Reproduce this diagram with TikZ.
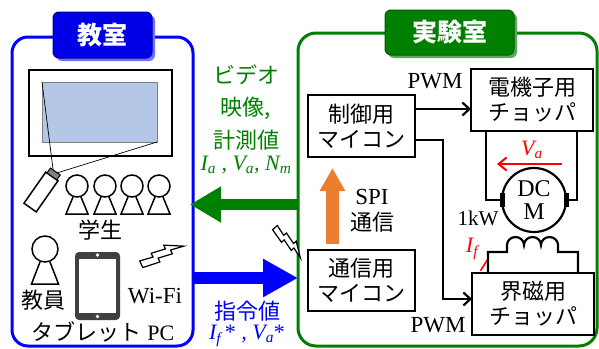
\documentclass[tikz,border=0pt]{standalone}
\usepackage{fontspec}
\setmainfont{Liberation Serif}
\newfontfamily\jpfont{Noto Sans CJK JP}
\usetikzlibrary{arrows.meta}
\definecolor{labgreen}{RGB}{0,128,0}
\definecolor{clsblue}{RGB}{0,0,255}
\definecolor{tabblue}{RGB}{0,0,230}
\definecolor{tabblueshade}{RGB}{110,110,255}
\definecolor{tabgreenshade}{RGB}{90,170,90}
\definecolor{screenblue}{RGB}{180,199,231}
\definecolor{spiorange}{RGB}{237,125,49}
\definecolor{tabletgray}{RGB}{64,64,64}

\tikzset{
  zapbolt/.pic={
    \draw[line width=1.2pt, fill=white, line join=miter]
      (-4pt,22pt) -- (3pt,22pt) -- (1pt,9pt) -- (5pt,9pt) -- (3pt,-5pt) -- (7pt,-5pt)
      -- (-2pt,-22pt) -- (0pt,-9pt) -- (-4pt,-9pt) -- (-2pt,5pt) -- (-6pt,5pt) -- cycle;
  }
}

\begin{document}
\begin{tikzpicture}[x=1pt,y=-1pt,
  every node/.style={inner sep=0pt, outer sep=0pt},
  jtxt/.style={font=\jpfont\fontsize{22}{25}\selectfont},
  ltxt/.style={font=\fontsize{23}{25}\selectfont},
  room/.style={draw, line width=3pt, rounded corners=16pt},
  roomtab/.style={rounded corners=6pt, text=white, font=\jpfont\bfseries\fontsize{25}{25}\selectfont},
  unit/.style={draw, line width=2.4pt, fill=white, align=center, jtxt},
  wire/.style={line width=2.2pt},
  sig/.style={wire, -{Straight Barb[length=7pt,width=13pt]}},
  person/.style={draw, line width=1.5pt, circle, fill=white},
  torso/.style={line width=1.5pt},
]
\useasboundingbox (0,0) rectangle (599,348);

% ---------- the two rooms ----------
\node[room, draw=clsblue, minimum width=181pt, minimum height=309pt] (cls) at (102.5,191.5) {};
\node[room, draw=labgreen, rounded corners=18pt, minimum width=299pt, minimum height=313pt] (lab) at (447.5,189.5) {};

\node[roomtab, fill=tabblueshade, minimum width=99pt, minimum height=46pt] at (105.5,38) {};
\node[roomtab, fill=tabblue, draw=blue!60!black, line width=1pt, minimum width=99pt, minimum height=46pt] (clsTab) at (102.5,35) {教室};
\node[roomtab, fill=tabgreenshade, minimum width=129pt, minimum height=45pt] at (452.5,35.5) {};
\node[roomtab, fill=labgreen, draw=labgreen!70!black, line width=1pt, minimum width=129pt, minimum height=45pt] (labTab) at (449.5,32.5) {実験室};

% ---------- classroom: screen and projector ----------
\node[draw, line width=2pt, minimum width=143pt, minimum height=86pt] (screen) at (100.5,113) {};
\node[draw=gray, line width=0.6pt, fill=screenblue, minimum width=115pt, minimum height=60pt] (img) at (99.5,112) {};
\node[draw, line width=1.5pt, fill=white, rotate=55, minimum width=38pt, minimum height=15pt] (proj) at (41,192) {};
\node[draw, line width=1pt, fill=gray, rotate=55, minimum width=6pt, minimum height=12pt] (lens) at ([shift={(55:22pt)}]proj.center) {};
\draw[line width=0.7pt] (lens) -- (img.north west);
\draw[line width=0.7pt] (lens) -- (img.south east);

% ---------- students and teacher ----------
\foreach \i/\x in {1/77,2/105,3/132,4/159} {
  \node[person, minimum size=22pt] (s\i) at (\x,186) {};
  \draw[torso] ([xshift=-4pt]s\i.south) -- ++(-7,17) -- ++(22,0) -- ++(-7,-17);
}
\node[jtxt] (stuLbl) at (100,230) {学生};

\node[person, minimum size=26pt] (teacher) at (45,249) {};
\draw[torso] ([xshift=-5pt]teacher.south) -- ++(-8.5,22) -- ++(27,0) -- ++(-8.5,-22);
\node[jtxt] (teachLbl) at (43,300) {教員};

% ---------- tablet and Wi-Fi ----------
\node[fill=tabletgray, rounded corners=4pt, minimum width=45pt, minimum height=68pt] (tablet) at (97.5,286) {};
\node[fill=white, minimum width=37pt, minimum height=54pt] (tabscreen) at (97.5,285.5) {};
\fill[white] ([yshift=-3pt]tablet.north) circle (1.8pt);
\fill[white] ([yshift=3.5pt]tablet.south) circle (1.8pt);
\node[ltxt] (wifi) at (155,296) {Wi-Fi};
\node[font=\fontsize{22}{25}\selectfont] (tabLbl) at (103,332) {{\jpfont タブレット} PC};
\pic[rotate=115, scale=1.05] at (162,254) {zapbolt};
\pic[rotate=42, scale=0.9] at (288.5,242) {zapbolt};

% ---------- links between the rooms ----------
\coordinate (yVideo) at (0,204.5);
\coordinate (yCmd) at (0,278);
\draw[labgreen, line width=11pt, -{Triangle[width=34pt,length=31pt]}, shorten >=-3pt]
  (lab.west |- yVideo) -- (cls.east |- yVideo);
\draw[clsblue, line width=12pt, -{Triangle[width=36pt,length=35pt]}]
  (cls.east |- yCmd) -- (lab.west |- yCmd);

\node[text=labgreen, align=center, font=\jpfont\fontsize{22}{32.5}\selectfont] (videoLbl) at (246,107.5) {ビデオ\\映像,\\計測値};
\node[text=labgreen, font=\fontsize{22}{25}\selectfont\itshape] (measLbl) at (246,165)
  {I\textsubscript{a} , V\textsubscript{a}, N\textsubscript{m}};
\node[jtxt, text=clsblue] (cmdLbl) at (247,311) {指令値};
\node[text=clsblue, font=\fontsize{22}{25}\selectfont\itshape] (refLbl) at (247,336)
  {I\textsubscript{f}\,{\upshape*} , V\textsubscript{a}{\upshape*}};

% ---------- laboratory ----------
\node[unit, minimum width=107pt, minimum height=62pt] (ctrl) at (361.5,126) {制御用\\マイコン};
\node[unit, minimum width=107pt, minimum height=61pt] (comm) at (361.5,280.5) {通信用\\マイコン};
\node[unit, minimum width=122pt, minimum height=62pt] (armchop) at (532,100) {電機子用\\チョッパ};
\node[unit, minimum width=122pt, minimum height=62pt] (fieldchop) at (533,304) {界磁用\\チョッパ};

\coordinate (pwmA) at ([yshift=17pt]ctrl.east);
\draw[sig] (pwmA) -- (pwmA -| armchop.west);
\coordinate (pwmF) at ([yshift=-14pt]ctrl.east);
\coordinate (pwmBend) at (443,299);
\draw[sig] (pwmF) -| (pwmBend) -- (pwmBend -| fieldchop.west);
\node[ltxt] (pwmTop) at (435,81) {PWM};
\node[ltxt] (pwmBot) at (438,325) {PWM};

\draw[spiorange, line width=13pt, -{Triangle[width=24pt,length=23pt]}]
  ([xshift=-29pt,yshift=6pt]comm.north) -- ([xshift=-29pt,yshift=-11pt]ctrl.south);
\node[ltxt] (spiLbl) at (372,197) {SPI};
\node[jtxt] (spiLbl2) at (372,222) {通信};

% ---------- DC motor ----------
\node[draw, circle, line width=2.2pt, minimum size=64pt, align=center, font=\fontsize{24}{23}\selectfont] (motor) at (534,200) {DC\\M};
\node[fill=black, minimum width=5pt, minimum height=14pt] (brushL) at (motor.west) {};
\node[fill=black, minimum width=5pt, minimum height=14pt] (brushR) at (motor.east) {};
\draw[wire] (brushL.west) -| ([xshift=-46pt]armchop.south);
\draw[wire] (brushR.east) -| ([xshift=45pt]armchop.south);
\node[font=\fontsize{21}{25}\selectfont] (power) at (478,218) {1kW};

\coordinate (vaFrom) at (562,164);
\coordinate (vaTo) at (497,164);
\draw[red, line width=2pt, -{Straight Barb[length=8pt,width=13pt]}] (vaFrom) -- (vaTo);
\node[text=red, font=\fontsize{22}{25}\selectfont\itshape] (vaLbl) at (532,150) {V\textsubscript{a}};

% field winding
\coordinate (ifFrom) at (488,271);
\coordinate (ifTo) at (488,256);
\draw[red, line width=1.6pt, -{Straight Barb[left, length=12pt, width=15pt]}] (ifFrom) -- (ifTo);
\draw[wire] ([xshift=-45pt]fieldchop.north) |- (507,252) -- (507,245)
  arc[start angle=180, end angle=360, x radius=8.5, y radius=8]
  arc[start angle=180, end angle=360, x radius=8.5, y radius=8]
  arc[start angle=180, end angle=360, x radius=8.5, y radius=8]
  -- (558,252) -| ([xshift=45pt]fieldchop.north);
\node[text=red, font=\fontsize{22}{25}\selectfont\itshape] (ifLbl) at (472,249) {I\textsubscript{f}};
\end{tikzpicture}
\end{document}
